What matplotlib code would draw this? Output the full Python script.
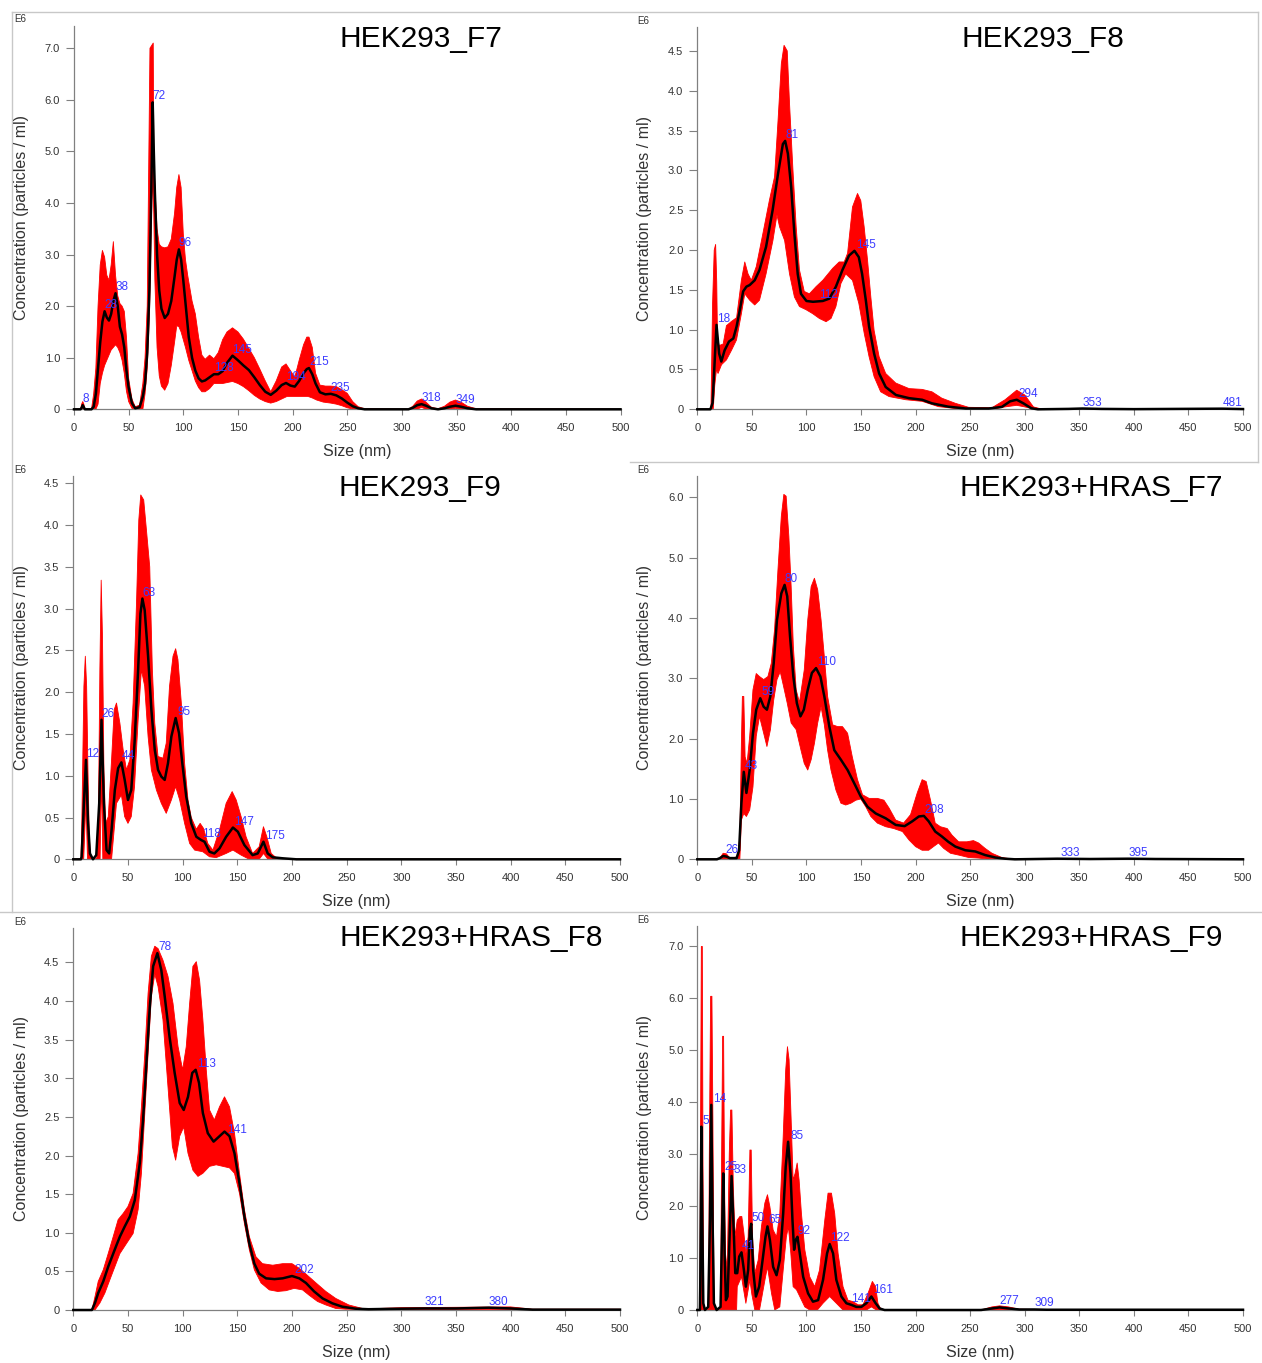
import numpy as np
import matplotlib.pyplot as plt
from matplotlib.lines import Line2D

plt.rcParams['font.family'] = ['Liberation Sans', 'DejaVu Sans']

W, H = 1262, 1363
red = "#ff0000"
blue = "#3c3cff"
grey = "#808080"

# ---- HEK293_F7 (size nm, concentration E6) ----
f7_mean = np.array([[0,0],[6,0],[7,0.03],[8,0.08],[9,0.04],[10,0],[16,0],[18,0.05],[20,0.3],[22,0.8],[24,1.3],[26,1.7],
    [28,1.9],[30,1.78],[32,1.72],[34,1.85],[36,2.1],[38,2.25],[40,2.0],[42,1.6],[44,1.45],[46,1.2],[48,0.75],[50,0.42],
    [53,0.12],[56,0.02],[60,0.04],[63,0.25],[65,0.5],[67,1.1],[69,2.3],[70,3.4],[71,4.6],[72,5.95],[73,5.0],[74,4.2],
    [76,3.0],[78,2.3],[80,1.95],[83,1.77],[86,1.85],[89,2.1],[92,2.57],[94,2.9],[96,3.1],[98,2.9],[100,2.5],[102,2.06],
    [105,1.4],[108,1.0],[111,0.75],[114,0.6],[117,0.54],[120,0.56],[124,0.62],[128,0.68],[132,0.68],[136,0.74],[140,0.9],
    [145,1.04],[150,0.95],[155,0.85],[160,0.76],[165,0.62],[170,0.47],[175,0.34],[180,0.28],[185,0.36],[190,0.47],
    [194,0.51],[198,0.46],[202,0.44],[206,0.55],[210,0.7],[213,0.78],[215,0.8],[218,0.68],[221,0.5],[225,0.33],[230,0.29],
    [235,0.3],[240,0.27],[245,0.21],[250,0.13],[255,0.06],[260,0.02],[266,0],[306,0],[310,0.03],[314,0.08],[318,0.1],
    [322,0.07],[327,0.02],[333,0],[339,0.02],[344,0.05],[349,0.07],[354,0.05],[360,0.02],[368,0],[500,0]])
f7_hi = np.array([[0,0],[6,0],[7,0.1],[8,0.15],[9,0.1],[10,0],[16,0],[18,0.3],[20,0.8],[22,2.0],[24,2.8],[26,3.08],
    [28,2.95],[30,2.6],[32,2.5],[34,2.8],[36,3.25],[38,2.6],[40,2.2],[42,2.05],[44,2.0],[46,1.9],[48,1.4],[50,0.6],
    [53,0.2],[56,0.05],[60,0.08],[63,0.5],[65,1.0],[67,2.0],[68.5,5.0],[69.5,7.0],[72.5,7.1],[73,5.0],[74,4.3],[76,3.5],
    [78,3.2],[80,3.15],[83,3.13],[86,3.15],[89,3.3],[92,3.8],[94,4.3],[96,4.55],[98,4.3],[100,3.4],[102,2.9],[104,2.6],
    [108,2.1],[111,1.85],[114,1.4],[117,1.05],[120,0.97],[124,1.05],[128,0.98],[132,1.1],[136,1.35],[140,1.5],[145,1.58],
    [150,1.5],[155,1.36],[160,1.18],[165,1.0],[170,0.78],[175,0.55],[180,0.34],[185,0.55],[190,0.82],[194,0.88],
    [198,0.75],[202,0.62],[206,0.95],[210,1.25],[213,1.4],[215,1.4],[218,1.2],[221,0.7],[225,0.47],[230,0.45],[235,0.45],
    [240,0.44],[245,0.38],[250,0.31],[255,0.15],[260,0.05],[266,0.01],[306,0],[310,0.06],[314,0.16],[318,0.2],[322,0.14],
    [327,0.04],[333,0.01],[339,0.06],[344,0.14],[349,0.18],[354,0.14],[360,0.06],[368,0.01],[500,0]])
f7_lo = np.array([[0,0],[20,0],[22,0.1],[24,0.5],[26,0.7],[28,0.85],[30,0.95],[32,1.05],[34,1.15],[36,1.2],[38,1.25],
    [40,1.2],[42,1.1],[44,0.95],[46,0.7],[48,0.35],[50,0.15],[53,0.02],[56,0],[63,0],[65,0.3],[67,0.8],[69,1.8],[70,2.8],
    [71,3.8],[72,4.5],[73,3.8],[74,2.5],[76,1.2],[78,0.65],[80,0.45],[83,0.37],[86,0.5],[89,0.85],[92,1.3],[94,1.62],
    [96,1.6],[98,1.5],[100,1.35],[102,1.2],[105,0.95],[108,0.75],[111,0.55],[114,0.42],[117,0.34],[120,0.34],[124,0.4],
    [128,0.5],[136,0.5],[145,0.54],[150,0.5],[155,0.44],[160,0.36],[165,0.27],[170,0.2],[175,0.15],[180,0.12],[185,0.15],
    [190,0.2],[195,0.25],[214,0.25],[218,0.22],[222,0.18],[228,0.14],[235,0.12],[240,0.1],[245,0.07],[250,0.03],[256,0],
    [314,0],[318,0.04],[322,0],[344,0],[349,0.02],[354,0],[500,0]])
f7_peaks = [8, 28, 38, 72, 96, 128, 145, 194, 215, 235, 318, 349]

# ---- HEK293_F8 ----
f8_mean = np.array([[0,0],[12,0],[14,0.08],[15.5,0.49],[17.6,1.06],[20,0.7],[22,0.6],[25,0.74],[29,0.85],[33,0.89],
    [36,1.04],[39,1.25],[42,1.48],[45,1.54],[48,1.56],[52.6,1.62],[57,1.75],[63,2.04],[69,2.5],[74,2.96],[78.4,3.33],
    [80.5,3.37],[83,3.21],[86,2.79],[89,2.2],[92,1.7],[95,1.45],[100,1.36],[106,1.35],[115,1.36],[121,1.39],[127,1.54],
    [133,1.75],[139,1.93],[144,1.99],[148,1.91],[151,1.7],[154.4,1.37],[157.4,1.04],[162,0.7],[166.6,0.45],[172.6,0.28],
    [182,0.18],[194,0.14],[206,0.12],[215,0.075],[230,0.033],[246,0.01],[267,0.01],[279,0.03],[286.6,0.1],[292.7,0.12],
    [298.8,0.075],[306,0.013],[312,0],[340,0.005],[353,0.01],[370,0.005],[400,0.002],[481,0.008],[500,0.003]])
f8_hi = np.array([[0,0],[12.5,0],[14,1.33],[15.5,2.0],[16.8,2.07],[17.8,1.6],[18.5,0.9],[20,0.8],[23.7,0.82],[26.7,1.05],
    [31,1.1],[36,1.15],[40.4,1.62],[43.5,1.85],[46.5,1.7],[49.5,1.62],[54,1.79],[60,2.2],[66,2.62],[70.8,2.92],[74,3.63],
    [77,4.34],[79.5,4.57],[82.4,4.5],[84.5,3.84],[87.5,3.04],[90.6,2.29],[93.6,1.75],[98,1.48],[102.7,1.45],[108.8,1.54],
    [115,1.62],[124,1.77],[130,1.85],[134.6,1.85],[137.7,1.96],[142.2,2.54],[146.8,2.71],[149.8,2.62],[152.9,2.29],
    [156,1.87],[159,1.41],[162,0.99],[166.6,0.66],[172.6,0.45],[181.8,0.33],[194,0.26],[206,0.25],[215,0.22],[224,0.14],
    [236.5,0.075],[248.6,0.025],[270,0.02],[282,0.12],[292.7,0.24],[300,0.18],[308,0.03],[315,0.005],[500,0.005]])
f8_lo = np.array([[0,0],[14.6,0],[16,0.3],[17.6,0.5],[19,0.45],[22.2,0.56],[26.7,0.62],[31.3,0.74],[35.9,0.87],
    [40.4,1.2],[43.5,1.45],[48,1.37],[52.6,1.31],[57,1.37],[63,1.7],[69.3,2.12],[73,2.44],[75.4,2.29],[80,2.12],
    [84.5,1.7],[89,1.41],[93.6,1.29],[99.7,1.25],[105.8,1.2],[111.9,1.14],[118,1.1],[122.5,1.14],[127,1.29],[131.6,1.58],
    [136,1.7],[142.2,1.62],[148,1.33],[153,0.95],[157.4,0.66],[162,0.41],[168,0.22],[175.7,0.16],[191,0.12],[206,0.1],
    [221,0.033],[236.5,0.01],[270,0],[282,0.03],[292.7,0.05],[300,0.03],[310,0],[500,0]])
f8_peaks = [18, 81, 112, 145, 294, 353, 481]

# ---- HEK293_F9 ----
f9_mean = np.array([[0,0],[7,0],[7.6,0.03],[9.7,0.67],[11.6,1.19],[13.4,0.47],[15.2,0.07],[18,0],[21,0.05],[23.7,0.67],
    [25.8,1.67],[28,0.67],[30.4,0.11],[32.8,0.07],[35,0.35],[38,0.83],[41,1.09],[44,1.16],[47,0.95],[50,0.71],[53,0.83],
    [56,1.39],[59.3,2.27],[61.4,2.94],[63.2,3.12],[65.3,2.98],[68.4,2.43],[71.4,1.79],[74.5,1.31],[77.5,1.07],[80.5,0.99],
    [83.6,0.95],[86.6,1.15],[89.7,1.47],[93.6,1.69],[96.7,1.51],[99.7,1.15],[103.3,0.75],[107.9,0.43],[112.5,0.27],
    [117,0.23],[120,0.21],[124.6,0.09],[129,0.07],[133.7,0.13],[139.8,0.27],[146,0.38],[150.5,0.33],[156.5,0.17],
    [164,0.05],[168.7,0.07],[173.9,0.21],[177.8,0.07],[182.4,0.024],[191.5,0.012],[204,0],[500,0]])
f9_hi = np.array([[0,0],[7,0],[7.6,0.27],[9.7,2.07],[11,2.43],[12.2,2.07],[13.4,1.07],[14.6,0.27],[15.8,0.03],[21.3,0],
    [22.8,0.27],[24.3,2.27],[25.5,3.34],[26.7,2.66],[28,1.07],[29.5,0.43],[32,0.51],[35,1.19],[37.4,1.79],[39.5,1.87],
    [42.6,1.63],[45.6,1.31],[48.6,1.07],[51.7,1.19],[54.7,1.87],[57.8,3.06],[59.9,4.06],[61.7,4.36],[64.4,4.3],
    [66.9,3.94],[69.9,3.5],[72.3,2.27],[74.5,1.63],[77.5,1.23],[82,1.21],[85,1.39],[88,2.07],[91.2,2.43],[93.6,2.52],
    [95.7,2.39],[98.8,1.87],[101.8,1.15],[104.9,0.71],[107.9,0.5],[112.5,0.36],[116,0.43],[119.1,0.37],[123,0.19],
    [127.7,0.11],[133.7,0.35],[139.8,0.67],[145.3,0.81],[149,0.71],[153.5,0.51],[158,0.27],[164,0.07],[170,0.15],
    [173.9,0.39],[177,0.27],[181,0.07],[185.4,0.02],[200,0],[500,0]])
f9_lo = np.array([[0,0],[9.5,0],[11.6,0.7],[13,0],[24.5,0],[25.8,1.0],[27,0],[35,0],[39.5,0.67],[44,0.77],[47,0.51],
    [50,0.43],[53,0.51],[56,0.87],[59.3,1.67],[62.3,2.27],[65.3,2.07],[68.4,1.47],[71.4,1.07],[76,0.83],[80.5,0.67],
    [85,0.55],[89.7,0.71],[93.6,0.87],[97.3,0.71],[101.8,0.43],[106.4,0.19],[111,0.11],[118.5,0.09],[124.6,0.03],
    [130.7,0.02],[139.8,0.07],[146,0.11],[153.5,0.05],[161,0],[170,0],[174,0.07],[178,0],[500,0]])
f9_peaks = [12, 26, 44, 63, 95, 118, 147, 175]

# ---- HEK293+HRAS_F7 ----
r7_mean = np.array([[0,0],[18,0],[20.7,0.02],[23.7,0.055],[26.7,0.045],[29.8,0.02],[36,0.02],[38.3,0.15],[40.4,0.93],
    [42.6,1.45],[45,1.1],[48,1.48],[51,2.09],[54,2.48],[57.7,2.67],[60.8,2.53],[63.8,2.48],[66.9,2.7],[70,3.25],[73,3.97],
    [77,4.41],[80,4.55],[82.4,4.36],[85,3.69],[88,3.03],[91.2,2.59],[94.5,2.37],[97.6,2.48],[101.2,2.81],[105,3.09],
    [108.8,3.17],[112.8,3.03],[116.4,2.7],[121,2.2],[125.5,1.81],[131.6,1.65],[137.7,1.48],[143.8,1.26],[149.8,1.04],
    [156,0.87],[163.5,0.76],[172.6,0.68],[181.8,0.57],[190,0.55],[197,0.63],[203,0.71],[207.6,0.72],[212,0.63],[218,0.46],
    [224,0.38],[230,0.29],[236.5,0.21],[245.6,0.15],[254.7,0.13],[263.8,0.07],[273,0.03],[282,0.01],[291,0],[330,0.01],
    [360,0.005],[395,0.01],[420,0.005],[500,0]])
r7_hi = np.array([[0,0],[20,0],[23.7,0.1],[26.7,0.09],[29.8,0.02],[37,0.04],[39,0.38],[40.4,1.92],[41.3,2.7],[42.6,2.7],
    [43.8,1.7],[45.6,1.59],[48,2.04],[51,2.81],[54,3.08],[57,3.03],[60.8,2.98],[64.7,3.03],[67.8,3.25],[70.8,3.81],
    [73.9,4.8],[77,5.69],[79.3,6.05],[81.4,6.02],[83.9,5.35],[86,4.52],[88,3.53],[90.6,2.81],[93.6,2.6],[98,3.14],
    [101.2,3.97],[104.3,4.52],[107.3,4.66],[110.3,4.47],[113.4,3.97],[116.4,3.36],[119.4,2.7],[124,2.23],[128.6,2.2],
    [133,2.2],[137.7,2.09],[142,1.7],[146.8,1.32],[151.4,1.07],[157.4,1.01],[165,1.01],[171,0.98],[175.7,0.85],
    [181.8,0.65],[189,0.6],[195.4,0.74],[201.5,1.1],[206,1.32],[209.7,1.29],[213.7,0.98],[218,0.6],[222.8,0.54],[229,0.51],
    [233.4,0.4],[239.5,0.29],[247,0.29],[253,0.31],[257.8,0.27],[263.8,0.18],[270,0.1],[279,0.03],[288,0.005],[500,0.005]])
r7_lo = np.array([[0,0],[39,0],[40.4,0.65],[42.6,0.76],[45,0.71],[48,0.82],[51,1.2],[54,2.04],[57,2.37],[60,2.15],
    [63.8,1.87],[67,2.15],[70,2.64],[73,2.98],[76,3.11],[79,2.87],[82.4,2.59],[86,2.26],[90.6,2.15],[95,1.81],[98,1.59],
    [101.2,1.48],[104.3,1.65],[107.3,1.92],[110.3,2.26],[113.4,2.53],[116.4,2.23],[119.4,1.81],[122.5,1.48],[127,1.15],
    [131.6,0.93],[136,0.9],[140.7,0.93],[145.3,0.98],[149.8,1.0],[154.4,0.87],[159,0.71],[165,0.6],[172.6,0.54],[180,0.51],
    [188,0.46],[194,0.32],[200,0.21],[206,0.15],[212,0.15],[216.4,0.21],[221,0.27],[225.8,0.18],[232,0.1],[239.5,0.07],
    [248.6,0.03],[257.8,0.02],[267,0],[500,0]])
r7_peaks = [26, 43, 59, 80, 110, 208, 333, 395]

# ---- HEK293+HRAS_F8 ----
r8_mean = np.array([[0,0],[17,0],[19.8,0.09],[22.8,0.22],[27.4,0.37],[31.9,0.56],[36.5,0.73],[39.5,0.84],[42.6,0.95],
    [47,1.08],[51.7,1.21],[56.2,1.42],[60.8,1.9],[63.8,2.46],[66.9,3.2],[70,3.93],[73,4.45],[76.9,4.62],[80.5,4.4],
    [83.6,4.06],[88,3.54],[92.7,3.07],[97.3,2.68],[101,2.59],[104.9,2.76],[108.8,3.07],[111.9,3.11],[115,2.94],
    [118.5,2.55],[123,2.29],[128.3,2.18],[133.7,2.25],[138.3,2.31],[142.9,2.25],[147.4,2.03],[152,1.64],[156.5,1.21],
    [161,0.86],[165.6,0.6],[170,0.47],[176.3,0.41],[184,0.4],[191.5,0.41],[200,0.44],[206.7,0.41],[212.8,0.35],
    [220.3,0.24],[228,0.15],[237,0.086],[246,0.043],[258,0.017],[270,0.01],[290,0.015],[321,0.02],[350,0.02],[380,0.03],
    [400,0.02],[420,0.005],[500,0.005]])
r8_hi = np.array([[0,0],[17,0],[19.8,0.17],[22.8,0.37],[27.4,0.52],[31.9,0.73],[36.5,0.95],[41,1.17],[45.6,1.25],
    [50,1.34],[54.7,1.51],[59.3,2.03],[62.3,2.63],[65.4,3.32],[68.4,4.1],[71.4,4.58],[74.5,4.71],[77.5,4.68],[82,4.53],
    [86.6,4.32],[91.2,3.97],[95.8,3.41],[100,3.11],[103.3,3.41],[106.4,3.97],[109.4,4.45],[112.5,4.51],[115.5,4.27],
    [118.5,3.76],[121.6,3.11],[124.6,2.59],[129,2.46],[133.7,2.63],[138.3,2.76],[142.9,2.63],[147.4,2.29],[152,1.77],
    [156.5,1.3],[161,0.95],[167,0.69],[173,0.6],[182.4,0.58],[191.5,0.6],[200,0.6],[206.7,0.54],[214,0.45],[222,0.35],
    [231,0.24],[240,0.15],[252,0.065],[264.4,0.02],[280,0.02],[300,0.03],[400,0.04],[420,0.01],[500,0.01]])
r8_lo = np.array([[0,0],[19.8,0],[24.3,0.09],[28.9,0.22],[33.4,0.39],[38,0.56],[42.6,0.73],[48.6,0.86],[54.7,0.99],
    [59.3,1.3],[62.3,1.77],[65.4,2.55],[68.4,3.32],[71.4,4.06],[74.5,4.35],[77.5,4.19],[82,3.76],[86.6,2.89],[90.6,2.12],
    [93.6,1.94],[97.3,2.25],[101,2.37],[104.9,2.03],[109.4,1.81],[114,1.73],[118.5,1.77],[124.6,1.86],[130.7,1.88],
    [136.8,1.86],[142.9,1.84],[147.4,1.77],[152,1.51],[156.5,1.12],[161,0.78],[165.6,0.52],[171.7,0.35],[179.3,0.26],
    [187,0.24],[194.5,0.25],[202,0.28],[209.7,0.26],[215.8,0.19],[223.4,0.11],[231,0.065],[240,0.02],[249,0.01],
    [280,0.005],[500,0]])
r8_peaks = [78, 113, 141, 202, 321, 380]

# ---- HEK293+HRAS_F9 ----
r9_mean = np.array([[0,0],[2.4,0],[2.7,0.45],[3.7,3.53],[4.6,1.73],[5.5,0.13],[7,0],[10,0.06],[11.6,1.73],[12.8,3.95],
    [14,1.73],[15.2,0.13],[17.7,0],[21.3,0.06],[22.9,1.73],[23.8,2.63],[25,1.09],[26.2,0.19],[27.7,0.26],[29.6,1.41],
    [31.4,2.58],[33,1.73],[34.8,0.71],[36.6,0.71],[38.4,1.03],[40.5,1.11],[42.7,0.77],[44.5,0.45],[46.6,0.77],[48.2,1.54],
    [49.4,1.66],[51.2,0.77],[53.7,0.26],[56.7,0.45],[59.8,0.96],[62.5,1.41],[64.3,1.61],[66.5,1.35],[69.5,0.83],
    [72.6,0.67],[75.6,0.96],[78.7,1.86],[81,2.76],[83.2,3.24],[85.4,2.63],[87.2,1.73],[88.7,1.16],[90.2,1.35],[91.8,1.41],
    [93.9,1.09],[97,0.64],[101.5,0.32],[106,0.16],[110.7,0.19],[115.2,0.58],[118.9,1.09],[121.3,1.27],[124.4,1.09],
    [127.4,0.58],[132,0.26],[136.6,0.13],[141,0.1],[145.7,0.06],[150.3,0.06],[154.9,0.13],[159.5,0.26],[163.4,0.13],
    [167,0.03],[171.6,0],[260,0],[270,0.03],[277,0.05],[285,0.03],[295,0.01],[309,0.01],[320,0.005],[500,0.005]])
r9_hi = np.array([[0,0],[2.4,0],[3,3.66],[3.7,7.0],[4.6,7.0],[5.2,3.0],[5.8,0],[10.4,0],[11,3.0],[12.2,6.04],[13.4,6.04],
    [14.3,3.66],[15.2,0.45],[16,0],[21.3,0],[22.3,3.0],[23.2,5.27],[24.1,5.27],[25,2.38],[26,0.77],[27.7,1.09],[29.3,3.02],
    [30.5,3.85],[31.7,3.85],[33,2.38],[34.5,1.41],[36.6,1.73],[39,1.8],[40.8,1.8],[42.7,1.48],[44.5,1.09],[46.6,1.41],
    [48.2,3.08],[49.4,3.08],[50.6,1.41],[52.7,0.71],[55.8,0.96],[58.8,1.61],[61.9,2.06],[64.3,2.22],[66.5,1.99],
    [69.5,1.54],[72.6,1.41],[75.6,1.86],[78.7,3.34],[81,4.62],[82.6,5.07],[84.1,4.82],[86,3.66],[87.8,2.5],[89.6,2.63],
    [91.5,2.83],[93.3,2.5],[95.4,1.86],[98.5,1.16],[103,0.64],[107.6,0.45],[112,0.77],[116.8,1.73],[119.8,2.25],
    [122.9,2.25],[125.9,1.86],[129,1.09],[133.5,0.45],[138,0.19],[142.7,0.16],[147.3,0.1],[151.8,0.1],[156.4,0.32],
    [160.4,0.55],[163.4,0.45],[165.5,0.13],[168.6,0],[260,0],[270,0.06],[277,0.08],[285,0.06],[295,0.015],[320,0.008],
    [500,0.008]])
r9_lo = np.array([[0,0],[36,0],[36.6,0.45],[40.5,0.64],[44.5,0.13],[48.2,0.58],[50,0.3],[52.7,0],[57,0],[62,0.58],
    [64.3,0.83],[68,0.32],[71,0],[75.6,0.06],[78.7,0.77],[81.6,1.41],[83.5,1.6],[85.7,1.09],[87.8,0.45],[90.9,0.39],
    [93.9,0.26],[98.5,0.06],[103,0],[110,0],[115.2,0.13],[121.3,0.26],[127.4,0.13],[133.5,0],[155,0],[159.5,0.06],
    [164,0],[500,0]])
r9_peaks = [5, 14, 25, 33, 41, 50, 65, 85, 92, 122, 141, 161, 277, 309]

# layout in figure pixels: left, right, top, bottom of the axes box
panels = [
    ("HEK293_F7", f7_mean, f7_hi, f7_lo, f7_peaks, (74, 620.5, 25.5, 409.3), 7.44, 1.0, 7.0, (421, 39)),
    ("HEK293_F8", f8_mean, f8_hi, f8_lo, f8_peaks, (697.3, 1243, 27, 409.3), 4.80, 0.5, 4.5, (1043, 39)),
    ("HEK293_F9", f9_mean, f9_hi, f9_lo, f9_peaks, (73.3, 620, 475.7, 859.3), 4.59, 0.5, 4.5, (420, 488)),
    ("HEK293+HRAS_F7", r7_mean, r7_hi, r7_lo, r7_peaks, (697.3, 1243, 475.7, 859.3), 6.36, 1.0, 6.0, (1091, 488)),
    ("HEK293+HRAS_F8", r8_mean, r8_hi, r8_lo, r8_peaks, (73.3, 620, 927.7, 1310), 4.95, 0.5, 4.5, (471, 938)),
    ("HEK293+HRAS_F9", r9_mean, r9_hi, r9_lo, r9_peaks, (697.3, 1243, 925.7, 1310), 7.40, 1.0, 7.0, (1091, 938)),
]

fig = plt.figure(figsize=(W / 100, H / 100), dpi=100)


def fx(x):
    return x / W


def fy(y):
    return 1 - y / H


for name, mean, hi, lo, peaks, (L, R, T, B), ymax, step, top_tick, (tx, ty) in panels:
    ax = fig.add_axes([fx(L), fy(B), (R - L) / W, (B - T) / H])
    band_x = np.concatenate([hi[:, 0], lo[::-1, 0]])
    band_y = np.concatenate([hi[:, 1], lo[::-1, 1]])
    ax.fill(band_x, band_y, color=red, lw=0.6, ec=red, joinstyle="round", zorder=2)
    ax.plot(mean[:, 0], mean[:, 1], color="black", lw=1.8, zorder=3, clip_on=False,
            solid_joinstyle="round")
    for p in peaks:
        sel = np.abs(mean[:, 0] - p) <= 2.5
        py = mean[sel, 1].max() if sel.any() else np.interp(p, mean[:, 0], mean[:, 1])
        ax.text(p, py, str(p), color=blue, fontsize=8.5, ha="left", va="bottom", zorder=4)

    ax.set_xlim(0, 500)
    ax.set_ylim(0, ymax)
    ax.set_xticks(np.arange(0, 501, 50))
    yt = np.arange(0, top_tick + step / 2, step)
    ax.set_yticks(yt)
    ax.set_yticklabels(["0" if v == 0 else f"{v:.1f}" for v in yt])
    for s in ("top", "right"):
        ax.spines[s].set_visible(False)
    for s in ("left", "bottom"):
        ax.spines[s].set_color(grey)
        ax.spines[s].set_linewidth(0.9)
    ax.tick_params(axis="y", length=6, width=0.8, color=grey, labelsize=8, labelcolor="#333333", pad=4)
    ax.tick_params(axis="x", length=4, width=0.8, color=grey, labelsize=8, labelcolor="#333333", pad=6)
    ax.patch.set_alpha(0)

    fig.text(fx(tx), fy(ty), name, fontsize=21.5, ha="center", va="center")
    fig.text(fx((L + R) / 2 + 10), fy(B + 42), "Size (nm)", fontsize=11.5, color="#333333",
             ha="center", va="center")
    lab_x = 22 if L < 300 else 645
    fig.text(fx(lab_x), fy((T + B) / 2), "Concentration (particles / ml)", fontsize=11.5,
             color="#333333", rotation=90, ha="center", va="center")
    fig.text(fx(lab_x - 2), fy(T - 6), "E6", fontsize=7, color="#333333", ha="center", va="center")

# thin frame lines from the screenshot composite
frame = "#c8c8c8"
for (x0, y0, x1, y1) in [(12, 12, 1258, 12), (12, 12, 12, 912), (1258, 12, 1258, 462),
                         (0, 912, 1262, 912), (630, 462, 1258, 462)]:
    fig.add_artist(Line2D([fx(x0), fx(x1)], [fy(y0), fy(y1)], color=frame, lw=1))

fig.savefig("out.png", dpi=100)
